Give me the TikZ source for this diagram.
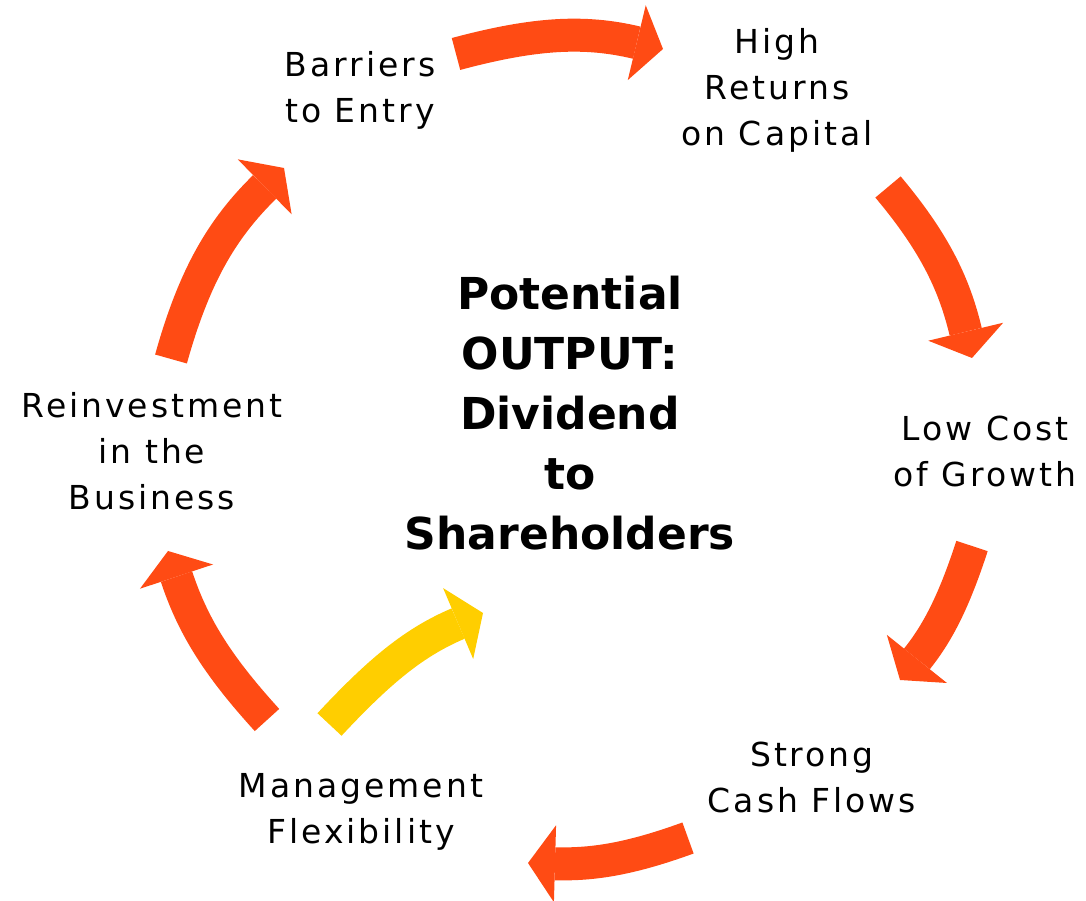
\documentclass[tikz,border=0pt]{standalone}
\usepackage{fontspec}
\usepackage{tikz}
\usetikzlibrary{arrows.meta}
\newfontfamily\lblfont[LetterSpace=9]{DejaVu Sans}
\newfontfamily\ctrfont{DejaVu Sans}
\definecolor{cycorange}{RGB}{255,75,20}
\definecolor{cycyellow}{RGB}{255,206,0}

\begin{document}
\begin{tikzpicture}[x=1pt,y=1pt,
    lbl/.style={align=center,inner sep=0pt,font=\lblfont\fontsize{33}{46}\selectfont},
    cyc/.style={line width=33pt,draw=cycorange,-{Triangle[length=27pt,width=77pt,line width=0pt]}}]
  \useasboundingbox (0,0) rectangle (1086,901);
  % labels round the cycle
  \node[lbl] (barriers) at (360,811) {Barriers\\to Entry};
  \node[lbl] (returns) at (777,811) {High\\Returns\\on Capital};
  \node[lbl] (lowcost) at (985,450) {Low Cost\\of Growth};
  \node[lbl] (cashflow) at (812,124) {Strong\\Cash Flows};
  \node[lbl] (mgmt) at (361,89) {Management\\Flexibility};
  \node[lbl] (reinvest) at (152,450) {Reinvestment\\in the\\Business};
  \node[align=center,inner sep=0pt,font=\ctrfont\bfseries\fontsize{44}{60}\selectfont]
    (output) at (570,488) {Potential\\OUTPUT:\\Dividend\\to\\Shareholders};
  % arrow ends
  \coordinate (a1s) at (456,847);  \coordinate (a1e) at (663,852);
  \coordinate (a2s) at (888,714);  \coordinate (a2e) at (972,543);
  \coordinate (a3s) at (972,355);  \coordinate (a3e) at (900,221);
  \coordinate (a4s) at (688,63);   \coordinate (a4e) at (528,38);
  \coordinate (a5s) at (267,181);  \coordinate (a5e) at (168,350);
  \coordinate (a6s) at (171,542);  \coordinate (a6e) at (284,733);
  \coordinate (a7s) at (329.5,176.5); \coordinate (a7e) at (483,288);
  \draw[cyc] (a1s) to[out=15,in=166.5] (a1e);
  \draw[cyc] (a2s) to[out=-50,in=103.5] (a2e);
  \draw[cyc] (a3s) to[out=-108,in=51.3] (a3e);
  \draw[cyc] (a4s) to[out=200,in=-1.6] (a4e);
  \draw[cyc] (a5s) to[bend left=12] (a5e);
  \draw[cyc] (a6s) to[bend left=15] (a6e);
  \draw[cyc,draw=cycyellow] (a7s) to[out=47,in=203] (a7e);
\end{tikzpicture}
\end{document}
